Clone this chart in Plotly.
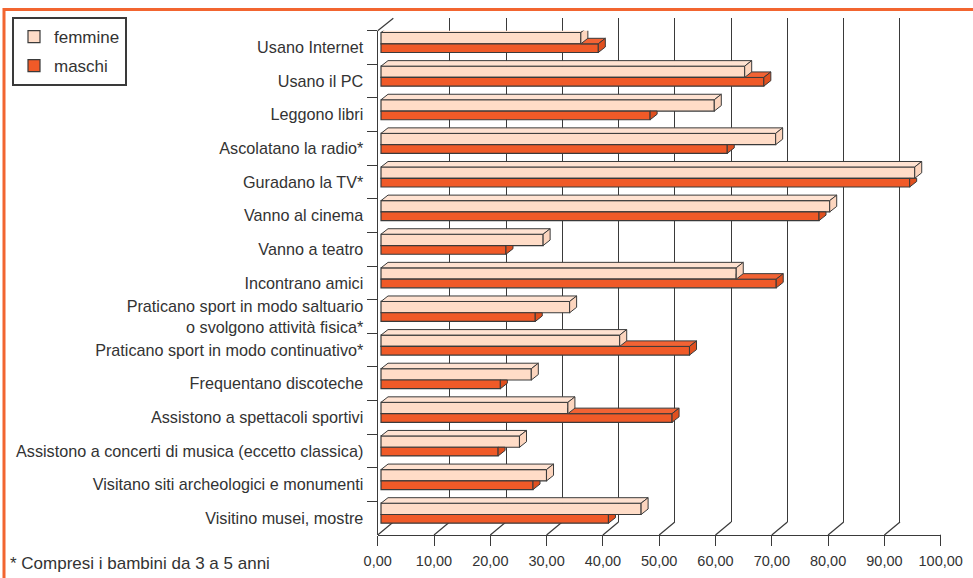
import plotly.graph_objects as go

W, H = 973, 578

categories = [
    "Usano Internet",
    "Usano il PC",
    "Leggono libri",
    "Ascolatano la radio*",
    "Guradano la TV*",
    "Vanno al cinema",
    "Vanno a teatro",
    "Incontrano amici",
    "Praticano sport in modo saltuario<br>o svolgono attività fisica*",
    "Praticano sport in modo continuativo*",
    "Frequentano discoteche",
    "Assistono a spettacoli sportivi",
    "Assistono a concerti di musica (eccetto classica)",
    "Visitano siti archeologici e monumenti",
    "Visitino musei, mostre",
]
femmine = [35.5, 64.6, 59.2, 70.1, 94.8, 79.7, 28.8, 63.1, 33.5, 42.4, 26.7, 33.2, 24.6, 29.4, 46.2]
maschi = [38.6, 68.0, 47.8, 61.5, 93.9, 77.8, 22.2, 70.2, 27.4, 54.8, 21.2, 51.7, 20.8, 27.0, 40.4]
x_ticks = [0, 10, 20, 30, 40, 50, 60, 70, 80, 90, 100]
footnote = "* Compresi i bambini da 3 a 5 anni"

FONT = "Liberation Sans, Arial, sans-serif"
TXT = "#333333"
EDGE = "#3a3a3a"
C_F = "#FFDCC7"
C_F_TOP = "#FFE2D1"
C_F_SIDE = "#FCD5BE"
C_M = "#F05A28"
C_M_TOP = "#F26334"
C_M_SIDE = "#E0501F"

def px_x(p):
    return p / W

def px_y(p):
    return 1 - p / H

# geometry (pixels)
FRONT_X0, FRONT_X1 = 377.7, 940.7
BACK_X0, BACK_X1 = 393.3, 956.3
FRONT_Y_TOP, FRONT_Y_BOT = 30.7, 535.0
BACK_Y_TOP, BACK_Y_BOT = 18.3, 522.0
BAR_X0 = 381.0
SCALE = (FRONT_X1 - FRONT_X0) / 100.0
BAR_DOM1 = 950.0

n = len(categories)
cat_px = (FRONT_Y_BOT - FRONT_Y_TOP) / n
DX = 7.0 / SCALE
DY = 5.5 / cat_px
f_off, f_w = -15.0 / cat_px, 11.3 / cat_px
m_off, m_w = f_off + f_w, 8.7 / cat_px

fig = go.Figure()

# invisible helper trace so the back-wall subplot is built
fig.add_trace(go.Scatter(x=[0, 100], y=[0, 1], mode="markers",
                         marker=dict(opacity=0), showlegend=False,
                         hoverinfo="skip", xaxis="x", yaxis="y"))

# bars (front faces)
fig.add_trace(go.Bar(
    y=categories, x=femmine, orientation="h", name="femmine",
    offset=f_off, width=f_w, legendgroup="f",
    marker=dict(color=C_F, line=dict(color=EDGE, width=1.2)),
    xaxis="x2", yaxis="y2",
))
fig.add_trace(go.Bar(
    y=categories, x=maschi, orientation="h", name="maschi",
    offset=m_off, width=m_w, legendgroup="m",
    marker=dict(color=C_M, line=dict(color=EDGE, width=1.2)),
    xaxis="x2", yaxis="y2",
))

# 3D faces derived from the values
m_top_x, m_top_y, m_side_x, m_side_y = [], [], [], []
f_top_x, f_top_y, f_side_x, f_side_y = [], [], [], []
for i, (f, m) in enumerate(zip(femmine, maschi)):
    ft = i + f_off
    fb = ft + f_w
    mt = i + m_off
    mb = mt + m_w
    f_top_x += [0, f, f + DX, DX, 0, None]
    f_top_y += [ft, ft, ft - DY, ft - DY, ft, None]
    f_side_x += [f, f, f + DX, f + DX, f, None]
    f_side_y += [ft, fb, fb - DY, ft - DY, ft, None]
    if m > f:
        m_top_x += [f, m, m + DX, f, f, None]
        m_top_y += [mt, mt, mt - DY, mt - DY, mt, None]
        m_side_x += [m, m, m + DX, m + DX, m, None]
        m_side_y += [mt, mb, mb - DY, mt - DY, mt, None]
    else:
        m_side_x += [m, m, m + DX, m + DX, m, None]
        m_side_y += [mt, mb, mb - DY, mt, mt, None]

for xs, ys, col in [
    (m_top_x, m_top_y, C_M_TOP),
    (m_side_x, m_side_y, C_M_SIDE),
    (f_top_x, f_top_y, C_F_TOP),
    (f_side_x, f_side_y, C_F_SIDE),
]:
    fig.add_trace(go.Scatter(
        x=xs, y=ys, mode="lines", fill="toself", fillcolor=col,
        line=dict(color=EDGE, width=1), showlegend=False, hoverinfo="skip",
        xaxis="x2", yaxis="y4",
    ))

bar_range = [(FRONT_X0 - BAR_X0) / SCALE, (BAR_DOM1 - BAR_X0) / SCALE]

fig.update_layout(
    width=W, height=H,
    margin=dict(l=0, r=0, t=0, b=0, autoexpand=False),
    paper_bgcolor="white", plot_bgcolor="rgba(0,0,0,0)",
    separators=",.",
    barmode="overlay",
    font=dict(family=FONT, color=TXT, size=16),
    # back wall gridlines
    xaxis=dict(domain=[px_x(BACK_X0), px_x(BACK_X1)], range=[-0.05, 100.05],
               tickmode="array", tickvals=x_ticks, showgrid=True,
               gridcolor=EDGE, gridwidth=1.3,
               showticklabels=False, ticks="", zeroline=False, showline=False,
               fixedrange=True),
    yaxis=dict(domain=[px_y(BACK_Y_BOT), px_y(BACK_Y_TOP)],
               showgrid=False, showticklabels=False, ticks="", showline=False,
               zeroline=False, range=[0, 1], fixedrange=True),
    # bars
    xaxis2=dict(domain=[px_x(FRONT_X0), px_x(BAR_DOM1)], range=bar_range,
                anchor="y2", visible=False, showgrid=False, zeroline=False),
    yaxis2=dict(domain=[px_y(FRONT_Y_BOT), px_y(FRONT_Y_TOP)], anchor="x2",
                type="category", categoryorder="array", categoryarray=categories,
                range=[n - 0.5, -0.5], tickson="boundaries", ticks="outside",
                ticklen=10, tickcolor=EDGE, tickwidth=1.2, showline=True,
                linecolor=EDGE, linewidth=1.3, showgrid=False, zeroline=False,
                tickfont=dict(size=16.2, color=TXT, family=FONT),
                ticklabelstandoff=10),
    yaxis4=dict(overlaying="y2", range=[n - 0.5, -0.5], visible=False,
                showgrid=False, zeroline=False, anchor="x2"),
    # front floor axis
    xaxis3=dict(domain=[px_x(FRONT_X0), px_x(FRONT_X1)], range=[0, 100],
                anchor="y3", tickvals=x_ticks, tickformat=".2f",
                ticks="outside", ticklen=10, tickcolor=EDGE, tickwidth=1.2,
                showline=True, linecolor=EDGE, linewidth=1.3, showgrid=False,
                zeroline=False, ticklabelstandoff=2,
                tickfont=dict(size=14.5, color=TXT, family=FONT)),
    yaxis3=dict(domain=[px_y(FRONT_Y_BOT), px_y(FRONT_Y_BOT - 10)], anchor="x3",
                visible=False, showgrid=False),
    legend=dict(x=px_x(12), y=px_y(17), xanchor="left", yanchor="top",
                bgcolor="white", bordercolor=EDGE, borderwidth=2,
                font=dict(size=17, color=TXT, family=FONT),
                tracegroupgap=4, traceorder="grouped"),
    showlegend=True,
)

shapes = []
# floor diagonals (front tick -> back gridline)
depth_units = (BACK_X0 - FRONT_X0) / SCALE
for v in x_ticks:
    shapes.append(dict(type="line", xref="x3", yref="paper",
                       x0=v, y0=px_y(FRONT_Y_BOT), x1=v + depth_units, y1=px_y(BACK_Y_BOT),
                       line=dict(color=EDGE, width=1.2), layer="below"))
# left wall top edge
shapes.append(dict(type="line", xref="paper", yref="paper",
                   x0=px_x(FRONT_X0), y0=px_y(FRONT_Y_TOP), x1=px_x(BACK_X0), y1=px_y(BACK_Y_TOP),
                   line=dict(color=EDGE, width=1.2)))
# orange frame
shapes.append(dict(type="line", xref="paper", yref="paper",
                   x0=px_x(3), y0=px_y(9.5), x1=1, y1=px_y(9.5),
                   line=dict(color="#F26530", width=3)))
shapes.append(dict(type="line", xref="paper", yref="paper",
                   x0=px_x(4), y0=px_y(8), x1=px_x(4), y1=0,
                   line=dict(color="#F26530", width=3)))
fig.update_layout(shapes=shapes)

fig.add_annotation(text=footnote, xref="paper", yref="paper",
                   x=px_x(8), y=px_y(563), xanchor="left", yanchor="middle",
                   showarrow=False, font=dict(size=17, color=TXT, family=FONT))

fig.write_html("out.html", config={"displayModeBar": False},
               post_script="document.body.style.margin='0';document.body.style.overflow='hidden';")
